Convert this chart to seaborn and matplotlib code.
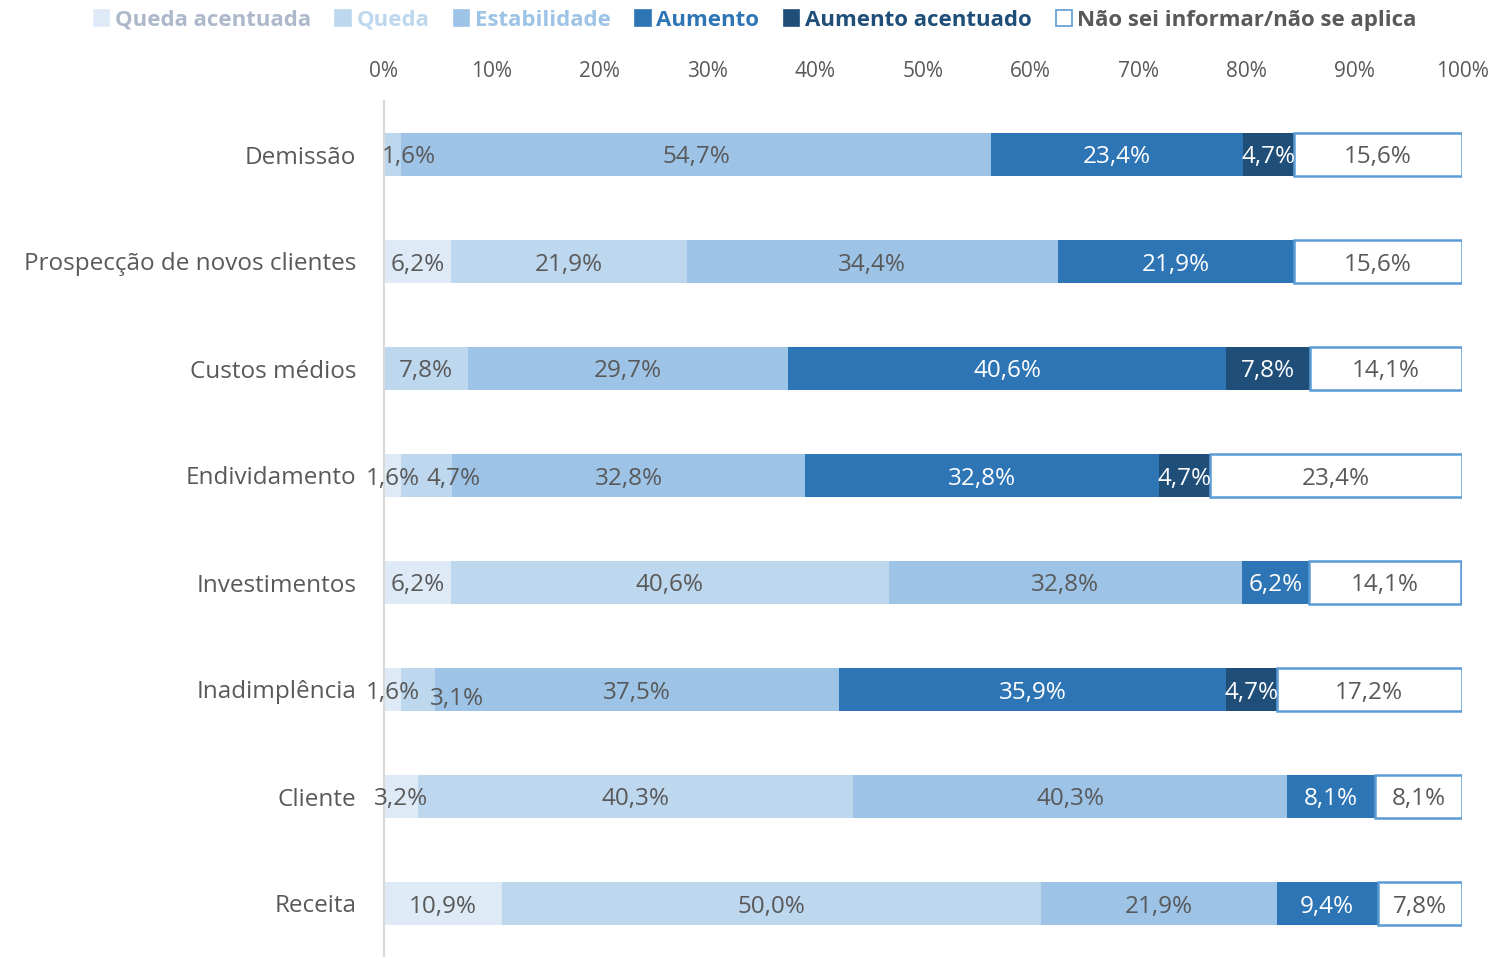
import matplotlib
matplotlib.use("Agg")
import matplotlib.pyplot as plt
import matplotlib.patches as mpatches
import numpy as np
import pandas as pd
import seaborn as sns

categories = [
    "Demissão",
    "Prospecção de novos clientes",
    "Custos médios",
    "Endividamento",
    "Investimentos",
    "Inadimplência",
    "Cliente",
    "Receita",
]

series_names = [
    "Queda acentuada",
    "Queda",
    "Estabilidade",
    "Aumento",
    "Aumento acentuado",
    "Não sei informar/não se aplica",
]

queda_acentuada = [0.0, 6.2, 0.0, 1.6, 6.2, 1.6, 3.2, 10.9]
queda = [1.6, 21.9, 7.8, 4.7, 40.6, 3.1, 40.3, 50.0]
estabilidade = [54.7, 34.4, 29.7, 32.8, 32.8, 37.5, 40.3, 21.9]
aumento = [23.4, 21.9, 40.6, 32.8, 6.2, 35.9, 8.1, 9.4]
aumento_acentuado = [4.7, 0.0, 7.8, 4.7, 0.0, 4.7, 0.0, 0.0]
nao_sei = [15.6, 15.6, 14.1, 23.4, 14.1, 17.2, 8.1, 7.8]

x_ticks = [0, 10, 20, 30, 40, 50, 60, 70, 80, 90, 100]

colors = ["#DEEBF7", "#BDD7EE", "#9DC3E6", "#2E75B6", "#1F4E79", "#FFFFFF"]
legend_text_colors = ["#ADB9CA", "#BDD7EE", "#9DC3E6", "#2E75B6", "#1F4E79", "#595959"]
label_colors = ["#595959", "#595959", "#595959", "#FFFFFF", "#FFFFFF", "#595959"]
edge_blue = "#5B9BD5"
gray = "#595959"

# small label shifts (pixels, +y = down) where Excel moved overlapping labels
nudges = {
    ("Demissão", "Queda"): (16, 0),
    ("Endividamento", "Queda"): (27, 0),
    ("Inadimplência", "Queda"): (39, 6),
}

sns.set_style("white")
plt.rcParams["font.family"] = ["Open Sans", "DejaVu Sans"]

df = pd.DataFrame(
    {
        "categoria": categories,
        series_names[0]: queda_acentuada,
        series_names[1]: queda,
        series_names[2]: estabilidade,
        series_names[3]: aumento,
        series_names[4]: aumento_acentuado,
        series_names[5]: nao_sei,
    }
)

fig = plt.figure(figsize=(14.93, 9.57), dpi=100)
ax = fig.add_axes([384 / 1493, 0.0, (1462 - 384) / 1493, 1 - 101 / 957])

left = np.zeros(len(categories))
for i, name in enumerate(series_names):
    vals = df[name].to_numpy()
    if name == series_names[-1]:
        style = dict(edgecolor=edge_blue, linewidth=1.8)
    else:
        style = dict(linewidth=0)
    sns.barplot(
        x=vals, y=categories, order=categories, orient="h",
        color=colors[i], saturation=1, width=0.4, left=left, ax=ax, **style
    )
    for j, v in enumerate(vals):
        if v <= 0:
            continue
        dx, dy = nudges.get((categories[j], name), (0, 0))
        ax.annotate(
            f"{v:.1f}%".replace(".", ","),
            xy=(left[j] + v / 2, j), xytext=(dx * 0.72, -(dy + 3) * 0.72),
            textcoords="offset points", ha="center", va="center",
            fontsize=17.5, color=label_colors[i],
        )
    left = left + vals

ax.set_xlim(0, 100)
ax.set_ylim(len(categories) - 0.5, -0.5)
ax.set_xlabel("")
ax.set_ylabel("")
ax.xaxis.tick_top()
ax.set_xticks(x_ticks)
ax.set_xticklabels([f"{t}%" for t in x_ticks])
ax.tick_params(axis="x", length=0, pad=14, labelsize=15, labelcolor=gray)
ax.tick_params(axis="y", length=0, pad=20, labelsize=17.5, labelcolor=gray)
for side in ["top", "right", "bottom"]:
    ax.spines[side].set_visible(False)
ax.spines["left"].set_color("#D9D9D9")
ax.spines["left"].set_linewidth(1.5)

handles = []
for i, name in enumerate(series_names):
    ec = edge_blue if i == len(series_names) - 1 else colors[i]
    handles.append(mpatches.Patch(facecolor=colors[i], edgecolor=ec, linewidth=1.2, label=name))
leg = fig.legend(
    handles=handles, loc="upper left", bbox_to_anchor=(78 / 1493, 1.006),
    ncol=6, frameon=False, handlelength=0.7, handleheight=0.7,
    handletextpad=0.25, columnspacing=1.1, borderaxespad=0.3,
    prop={"size": 16, "weight": "bold"},
)
for txt, c in zip(leg.get_texts(), legend_text_colors):
    txt.set_color(c)

fig.savefig("out.png", dpi=100)
